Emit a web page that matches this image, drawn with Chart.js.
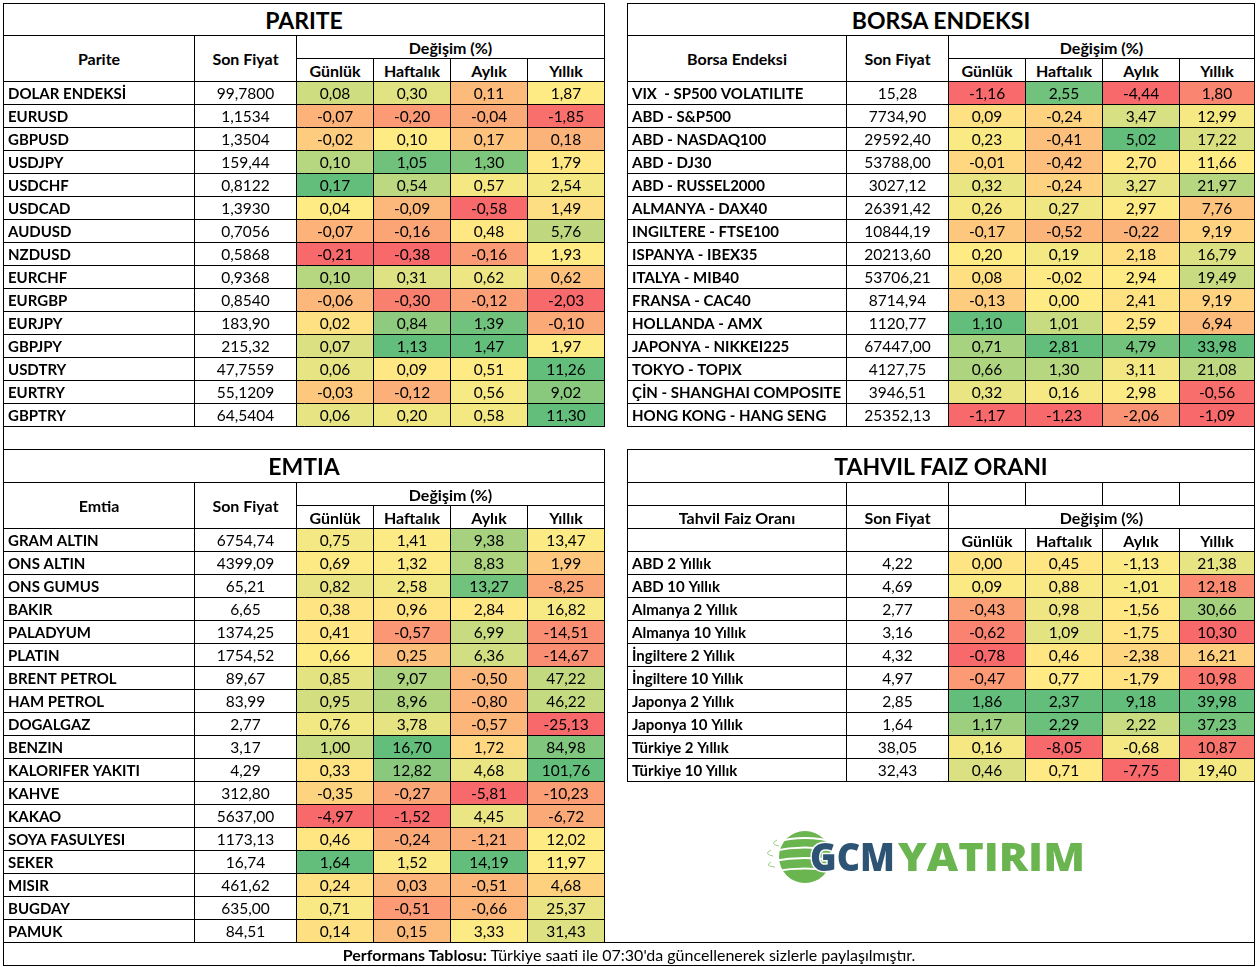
<!DOCTYPE html>
<html>
<head>
<meta charset="utf-8">
<script src="https://cdn.jsdelivr.net/npm/chart.js@4.4.1/dist/chart.umd.min.js"></script>
<style>
body{margin:0;background:#fff;}
#page{position:relative;width:1257px;height:967px;overflow:hidden;font-family:Lato,"Open Sans",sans-serif;color:#000;background:#fff;}
.c{position:absolute;box-sizing:border-box;border:1px solid #000;display:flex;align-items:center;justify-content:center;font-weight:bold;font-size:16px;white-space:nowrap;}
.t{font-size:23px;}
.foot{font-weight:normal;font-size:16px;}
canvas{position:absolute;}
svg{position:absolute;}
</style>
</head>
<body>
<div id="page"></div>
<script>
/* =========================
   Tablo verileri
========================= */

const subHeads = ["Günlük", "Haftalık", "Aylık", "Yıllık"];

// PARITE
const pariteNames = ["DOLAR ENDEKSİ","EURUSD","GBPUSD","USDJPY","USDCHF","USDCAD","AUDUSD","NZDUSD","EURCHF","EURGBP","EURJPY","GBPJPY","USDTRY","EURTRY","GBPTRY"];
const paritePrices = [99.78,1.1534,1.3504,159.44,0.8122,1.393,0.7056,0.5868,0.9368,0.854,183.9,215.32,47.7559,55.1209,64.5404];
const pariteDaily = [0.08,-0.07,-0.02,0.10,0.17,0.04,-0.07,-0.21,0.10,-0.06,0.02,0.07,0.06,-0.03,0.06];
const pariteWeekly = [0.30,-0.20,0.10,1.05,0.54,-0.09,-0.16,-0.38,0.31,-0.30,0.84,1.13,0.09,-0.12,0.20];
const pariteMonthly = [0.11,-0.04,0.17,1.30,0.57,-0.58,0.48,-0.16,0.62,-0.12,1.39,1.47,0.51,0.56,0.58];
const pariteYearly = [1.87,-1.85,0.18,1.79,2.54,1.49,5.76,1.93,0.62,-2.03,-0.10,1.97,11.26,9.02,11.30];

// BORSA ENDEKSI
const borsaNames = ["VIX  - SP500 VOLATILITE","ABD - S&P500","ABD - NASDAQ100","ABD - DJ30","ABD - RUSSEL2000","ALMANYA - DAX40","INGILTERE - FTSE100","ISPANYA - IBEX35","ITALYA - MIB40","FRANSA - CAC40","HOLLANDA - AMX","JAPONYA - NIKKEI225","TOKYO - TOPIX","ÇİN - SHANGHAI COMPOSITE","HONG KONG - HANG SENG"];
const borsaPrices = [15.28,7734.90,29592.40,53788.00,3027.12,26391.42,10844.19,20213.60,53706.21,8714.94,1120.77,67447.00,4127.75,3946.51,25352.13];
const borsaDaily = [-1.16,0.09,0.23,-0.01,0.32,0.26,-0.17,0.20,0.08,-0.13,1.10,0.71,0.66,0.32,-1.17];
const borsaWeekly = [2.55,-0.24,-0.41,-0.42,-0.24,0.27,-0.52,0.19,-0.02,0.00,1.01,2.81,1.30,0.16,-1.23];
const borsaMonthly = [-4.44,3.47,5.02,2.70,3.27,2.97,-0.22,2.18,2.94,2.41,2.59,4.79,3.11,2.98,-2.06];
const borsaYearly = [1.80,12.99,17.22,11.66,21.97,7.76,9.19,16.79,19.49,9.19,6.94,33.98,21.08,-0.56,-1.09];

// EMTIA
const emtiaNames = ["GRAM ALTIN","ONS ALTIN","ONS GUMUS","BAKIR","PALADYUM","PLATIN","BRENT PETROL","HAM PETROL","DOGALGAZ","BENZIN","KALORIFER YAKITI","KAHVE","KAKAO","SOYA FASULYESI","SEKER","MISIR","BUGDAY","PAMUK"];
const emtiaPrices = [6754.74,4399.09,65.21,6.65,1374.25,1754.52,89.67,83.99,2.77,3.17,4.29,312.80,5637.00,1173.13,16.74,461.62,635.00,84.51];
const emtiaDaily = [0.75,0.69,0.82,0.38,0.41,0.66,0.85,0.95,0.76,1.00,0.33,-0.35,-4.97,0.46,1.64,0.24,0.71,0.14];
const emtiaWeekly = [1.41,1.32,2.58,0.96,-0.57,0.25,9.07,8.96,3.78,16.70,12.82,-0.27,-1.52,-0.24,1.52,0.03,-0.51,0.15];
const emtiaMonthly = [9.38,8.83,13.27,2.84,6.99,6.36,-0.50,-0.80,-0.57,1.72,4.68,-5.81,4.45,-1.21,14.19,-0.51,-0.66,3.33];
const emtiaYearly = [13.47,1.99,-8.25,16.82,-14.51,-14.67,47.22,46.22,-25.13,84.98,101.76,-10.23,-6.72,12.02,11.97,4.68,25.37,31.43];

// TAHVIL FAIZ ORANI
const tahvilNames = ["ABD 2 Yıllık","ABD 10 Yıllık","Almanya 2 Yıllık","Almanya 10 Yıllık","İngiltere 2 Yıllık","İngiltere 10 Yıllık","Japonya 2 Yıllık","Japonya 10 Yıllık","Türkiye 2 Yıllık","Türkiye 10 Yıllık"];
const tahvilPrices = [4.22,4.69,2.77,3.16,4.32,4.97,2.85,1.64,38.05,32.43];
const tahvilDaily = [0.00,0.09,-0.43,-0.62,-0.78,-0.47,1.86,1.17,0.16,0.46];
const tahvilWeekly = [0.45,0.88,0.98,1.09,0.46,0.77,2.37,2.29,-8.05,0.71];
const tahvilMonthly = [-1.13,-1.01,-1.56,-1.75,-2.38,-1.79,9.18,2.22,-0.68,-7.75];
const tahvilYearly = [21.38,12.18,30.66,10.30,16.21,10.98,39.98,37.23,10.87,19.40];


/* =========================
   Yerlesim
========================= */

const ROW_H = 23;
const FONT = "Lato";
const leftCols = [3, 194, 296, 373, 450, 527, 604];
const rightCols = [627, 846, 948, 1025, 1102, 1179, 1254];

const page = document.getElementById("page");

function cell(x0, y0, x1, y1, html, cls, extra){
  let d = document.createElement("div");
  d.className = "c " + (cls || "");
  d.style.left = x0 + "px";
  d.style.top = y0 + "px";
  d.style.width = (x1 - x0 + 1) + "px";
  d.style.height = (y1 - y0 + 1) + "px";
  if(extra) Object.assign(d.style, extra);
  d.innerHTML = html || "";
  page.appendChild(d);
}

function fmt(v, d){
  return v.toFixed(d).replace(".", ",");
}


/* =========================
   Renk skalasi (kirmizi - sari - yesil)
========================= */

const RED = [248,105,107], YEL = [255,235,132], GRN = [99,190,123];

function scaleColors(vals){
  let s = [...vals].sort((a,b)=>a-b);
  let n = s.length;
  let lo = s[0], hi = s[n-1];
  let mid = n % 2 ? s[(n-1)/2] : (s[n/2-1] + s[n/2]) / 2;
  return vals.map(v=>{
    let a, b, t;
    if(v <= mid){ a = RED; b = YEL; t = mid === lo ? 1 : (v-lo)/(mid-lo); }
    else { a = YEL; b = GRN; t = (v-mid)/(hi-mid); }
    return "rgb(" + a.map((c,i)=>Math.round(c + (b[i]-c)*t)).join(",") + ")";
  });
}


/* =========================
   Hucre yazilari
========================= */

const cellText = {
  id: "cellText",
  afterDatasetsDraw(chart){
    let ctx = chart.ctx;
    chart.data.datasets.forEach((ds, i)=>{
      chart.getDatasetMeta(i).data.forEach((bar, j)=>{
        let p = bar.getProps(["x","y","base"], true);
        let l = Math.min(p.x, p.base), r = Math.max(p.x, p.base);
        ctx.save();
        ctx.font = (ds.bold ? "bold 15px " : "15.5px ") + FONT;
        ctx.fillStyle = "#000";
        ctx.textBaseline = "middle";
        ctx.textAlign = ds.left ? "left" : "center";
        ctx.fillText(ds.texts[j], ds.left ? l + 4 : (l + r) / 2, p.y + 1);
        ctx.restore();
      });
    });
  }
};


/* =========================
   Tablo cizimi
========================= */

function drawTable(cols, top, names, prices, priceDigits, changes){

  let edges = cols.map(c => c - cols[0]);
  let W = edges[edges.length-1];
  let span = i => names.map(() => [edges[i], edges[i+1]]);

  let canvas = document.createElement("canvas");
  canvas.width = W + 1;
  canvas.height = names.length * ROW_H + 1;
  canvas.style.left = cols[0] + "px";
  canvas.style.top = top + "px";
  page.appendChild(canvas);

  let datasets = [
    { data: span(0), backgroundColor: "#fff", texts: names, bold: true, left: true },
    { data: span(1), backgroundColor: "#fff", texts: prices.map(v => fmt(v, priceDigits(v))) }
  ];

  changes.forEach((vals, k)=>{
    datasets.push({ data: span(k+2), backgroundColor: scaleColors(vals), texts: vals.map(v => fmt(v, 2)) });
  });

  new Chart(canvas, {
    type: "bar",
    data: { labels: names, datasets: datasets },
    options: {
      indexAxis: "y",
      responsive: false,
      animation: false,
      devicePixelRatio: 1,
      layout: { padding: { left: 0.5, right: 0.5, top: 0.5, bottom: 0.5 } },
      plugins: { legend: { display: false }, tooltip: { enabled: false } },
      datasets: { bar: { grouped: false, barPercentage: 1, categoryPercentage: 1, borderWidth: 0, borderSkipped: false } },
      scales: {
        x: {
          type: "linear", min: 0, max: W,
          afterBuildTicks: s => { s.ticks = edges.map(v => ({ value: v })); },
          afterFit: s => { s.height = 0; },
          ticks: { display: false },
          grid: { color: "#000", lineWidth: 1, drawTicks: false, z: 1 },
          border: { display: false }
        },
        y: {
          type: "category",
          afterFit: s => { s.width = 0; },
          ticks: { display: false },
          grid: { offset: true, color: "#000", lineWidth: 1, drawTicks: false, z: 1 },
          border: { display: false }
        }
      }
    },
    plugins: [cellText]
  });
}

function standardHeader(cols, y0, title, nameHead){
  let L = cols[0], R = cols[6];
  cell(L, y0, R, y0+32, title, "t");
  cell(cols[0], y0+32, cols[1], y0+78, nameHead);
  cell(cols[1], y0+32, cols[2], y0+78, "Son Fiyat");
  cell(cols[2], y0+32, R, y0+55, "Değişim (%)");
  subHeads.forEach((h, i)=> cell(cols[i+2], y0+55, cols[i+3], y0+78, h));
}


/* =========================
   PARITE / BORSA
========================= */

standardHeader(leftCols, 3, "PARITE", "Parite");
drawTable(leftCols, 81, pariteNames, paritePrices, v => v < 100 ? 4 : 2,
  [pariteDaily, pariteWeekly, pariteMonthly, pariteYearly]);

standardHeader(rightCols, 3, "BORSA ENDEKSI", "Borsa Endeksi");
drawTable(rightCols, 81, borsaNames, borsaPrices, () => 2,
  [borsaDaily, borsaWeekly, borsaMonthly, borsaYearly]);

// ara satir
cell(3, 426, 1254, 449, "", "", { borderTop: "none", borderBottom: "none" });


/* =========================
   EMTIA
========================= */

cell(3, 449, 604, 482, "EMTIA", "t");
cell(leftCols[0], 482, leftCols[1], 528, "Emtia");
cell(leftCols[1], 482, leftCols[2], 528, "Son Fiyat");
cell(leftCols[2], 482, leftCols[6], 505, "Değişim (%)");
subHeads.forEach((h, i)=> cell(leftCols[i+2], 505, leftCols[i+3], 528, h));
drawTable(leftCols, 528, emtiaNames, emtiaPrices, () => 2,
  [emtiaDaily, emtiaWeekly, emtiaMonthly, emtiaYearly]);


/* =========================
   TAHVIL FAIZ ORANI
========================= */

cell(627, 449, 1254, 482, "TAHVIL FAIZ ORANI", "t");
for(let i=0;i<6;i++) cell(rightCols[i], 482, rightCols[i+1], 505, "");
cell(rightCols[0], 505, rightCols[1], 528, "Tahvil Faiz Oranı");
cell(rightCols[1], 505, rightCols[2], 528, "Son Fiyat");
cell(rightCols[2], 505, rightCols[6], 528, "Değişim (%)");
cell(rightCols[0], 528, rightCols[1], 551, "");
cell(rightCols[1], 528, rightCols[2], 551, "");
subHeads.forEach((h, i)=> cell(rightCols[i+2], 528, rightCols[i+3], 551, h));
drawTable(rightCols, 551, tahvilNames, tahvilPrices, () => 2,
  [tahvilDaily, tahvilWeekly, tahvilMonthly, tahvilYearly]);

// logo alani cercevesi ve alt bilgi
cell(604, 781, 1254, 942, "", "", { borderTop: "none", borderLeft: "none" });
cell(3, 942, 1254, 965, "<b>Performans Tablosu:</b>&nbsp;Türkiye saati ile 07:30'da güncellenerek sizlerle paylaşılmıştır.", "foot");


/* =========================
   Logo
========================= */

page.insertAdjacentHTML("beforeend",
`<svg style="left:760px;top:820px" width="340" height="75" viewBox="0 0 340 75">
  <circle cx="45" cy="37" r="26" fill="#6ab550"/>
  <g fill="none" stroke="#fff" stroke-width="2.2">
    <path d="M15 22 Q45 14 75 22"/>
    <path d="M13 31 Q45 24 77 31"/>
    <path d="M13 41 Q45 35 77 41"/>
    <path d="M16 51 Q45 46 74 51"/>
  </g>
  <g fill="none" stroke="#9acb84" stroke-width="1">
    <path d="M17 20 Q9 24 19 26"/>
    <path d="M11 30 Q3 34 13 36"/>
    <path d="M11 42 Q4 46 15 47"/>
  </g>
  <text x="50" y="51" font-family="'Open Sans',sans-serif" font-weight="800" font-size="39" fill="#2e5475" stroke="#fff" stroke-width="3" paint-order="stroke" textLength="85" lengthAdjust="spacingAndGlyphs">GCM</text>
  <text x="138" y="51" font-family="'Open Sans',sans-serif" font-weight="800" font-size="39" fill="#6ab550" textLength="187" lengthAdjust="spacingAndGlyphs">YATIRIM</text>
</svg>`);
</script>
</body>
</html>
